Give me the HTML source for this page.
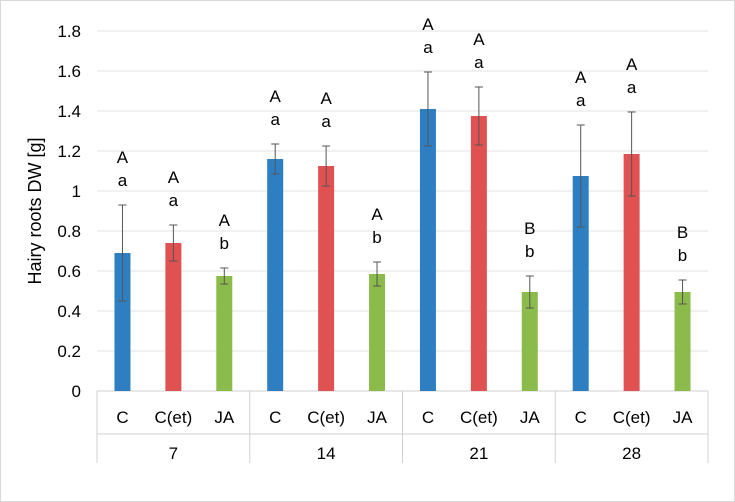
<!DOCTYPE html>
<html><head><meta charset="utf-8"><style>
body{margin:0;background:#fff;}
svg{display:block;font-family:"Liberation Sans",sans-serif;}
</style></head><body>
<svg id="chart" width="735" height="502">
<rect x="0.5" y="0.5" width="734" height="501" fill="#fff" stroke="#d9d9d9"/>
<g id="grid"></g><g id="bars"></g><g id="axes"></g>
<text transform="translate(41,211) rotate(-90)" text-anchor="middle" font-size="18" fill="#000">Hairy roots DW [g]</text>
</svg>
<script>
const groups=["7","14","21","28"];
const treatments=["C","C(et)","JA"];
const values=[[0.69,0.74,0.575],[1.16,1.125,0.585],[1.41,1.375,0.495],[1.075,1.185,0.495]];
const errors=[[0.24,0.09,0.04],[0.075,0.1,0.06],[0.185,0.145,0.08],[0.255,0.21,0.06]];
const lettersUpper=[["A","A","A"],["A","A","A"],["A","A","B"],["A","A","B"]];
const lettersLower=[["a","a","b"],["a","a","b"],["a","a","b"],["a","a","b"]];
const yTicks=[0,0.2,0.4,0.6,0.8,1,1.2,1.4,1.6,1.8];
const colors=["#2e7fc1","#e05151","#8bbb4b"];
const NS="http://www.w3.org/2000/svg";
const x0=97,x1=708,y0=391,ymax=1.8,ytop=31;
const y=v=>y0-(v/ymax)*(y0-ytop);
const cw=(x1-x0)/12;
function mk(t,a,p){const e=document.createElementNS(NS,t);for(const k in a)e.setAttribute(k,a[k]);p.appendChild(e);return e;}
const grid=document.getElementById('grid'),bars=document.getElementById('bars'),axes=document.getElementById('axes');
yTicks.forEach(t=>{
 const l=mk('line',{x1:x0,x2:x1,y1:y(t),y2:y(t),stroke:t===0?'#d0d0d0':'#e3e3e3'},grid);
 
 
 const tx=mk('text',{x:81,y:y(t)+6,'text-anchor':'end','font-size':17},axes);
 tx.textContent=t;
 
 
});
for(let g=0;g<=4;g++){
 const l=mk('line',{x1:x0+g*cw*3,x2:x0+g*cw*3,y1:y0,y2:463,stroke:'#d0d0d0'},axes);
 
 
}
mk('line',{x1:x0,x2:x1,y1:434,y2:434,stroke:'#d0d0d0'},axes);
groups.forEach((gname,g)=>{
 const gt=mk('text',{x:x0+(g*3+1.5)*cw,y:459,'text-anchor':'middle','font-size':17},axes);
 gt.textContent=gname;
 
 
 treatments.forEach((tr,i)=>{
  const cx=x0+(g*3+i+0.5)*cw,v=values[g][i],e=errors[g][i];
  const r=mk('rect',{x:cx-8,y:y(v),width:16,height:y0-y(v),fill:colors[i]},bars);
  
  
  const eb=mk('path',{d:`M${cx},${y(v+e)}V${y(v-e)}M${cx-4},${y(v+e)}H${cx+4}M${cx-4},${y(v-e)}H${cx+4}`,stroke:'#555',fill:'none','stroke-width':1},bars);
  
  
  const ct=mk('text',{x:cx,y:423,'text-anchor':'middle','font-size':17},axes);
  ct.textContent=tr;
  
  
  const top=y(v+e);
  const u=mk('text',{x:cx,y:top-42,'text-anchor':'middle','font-size':17},bars);
  u.textContent=lettersUpper[g][i];
  
  
  const lo=mk('text',{x:cx,y:top-19,'text-anchor':'middle','font-size':17},bars);
  lo.textContent=lettersLower[g][i];
  
  
 });
});
</script>
</body></html>
